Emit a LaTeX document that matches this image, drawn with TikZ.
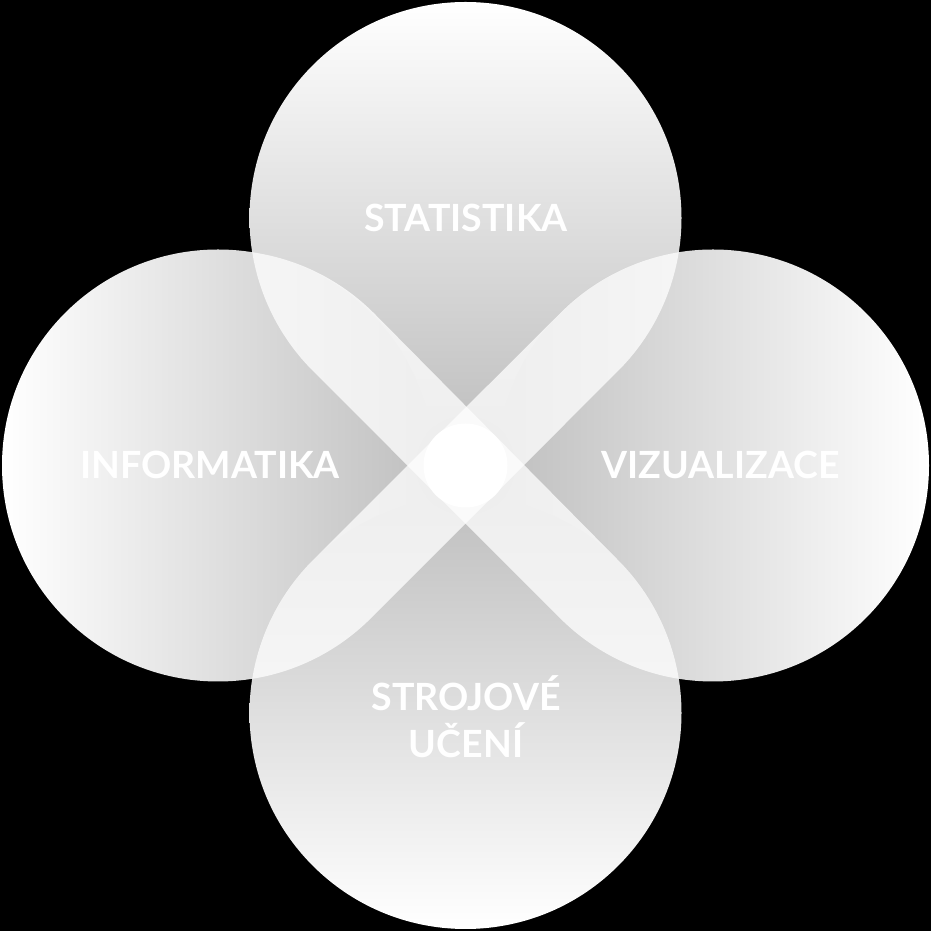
\documentclass[tikz,border=0pt]{standalone}
\usepackage{fontspec}
\setmainfont{Lato}
\usetikzlibrary{calc}

\begin{document}
\begin{tikzpicture}[
    x=1pt, y=1pt,
    field/.style={circle, minimum size=432pt, inner sep=0pt, outer sep=0pt},
    band/.style={fill=white, fill opacity=0.75},
    topic/.style={anchor=base, text=white, align=center,
      font=\bfseries\fontsize{37.5}{47}\selectfont}
  ]

  % black ground, fixes the size
  \fill[black] (0,0) rectangle (931,931);
  \useasboundingbox (0,0) rectangle (931,931);

  % the four fields, light outside, darker towards the middle
  \node (stat) [field, top color=white, bottom color=black!25]  at (465.5,713)  {};
  \node (inf)  [field, left color=white, right color=black!25]  at (218,465.5)  {};
  \node (viz)  [field, left color=black!25, right color=white]  at (713,465.5)  {};
  \node (ml)   [field, top color=black!25, bottom color=white]  at (465.5,218)  {};

  % grey under the crossing, where no field lies
  \coordinate (mid) at (465.5,465.5);
  \fill[black!25] (mid) circle[radius=50];

  % the two crossing bands through the overlaps
  \fill[band] (inf.80.9) arc[start angle=80.9, end angle=45, radius=216pt]
              -- (ml.45) arc[start angle=45, end angle=9.1, radius=216pt]
                         arc[start angle=260.9, end angle=225, radius=216pt]
              -- (stat.225) arc[start angle=225, end angle=189.1, radius=216pt]
              -- cycle;
  \fill[band] (viz.99.1) arc[start angle=99.1, end angle=135, radius=216pt]
              -- (ml.135) arc[start angle=135, end angle=170.9, radius=216pt]
                          arc[start angle=279.1, end angle=315, radius=216pt]
              -- (stat.315) arc[start angle=315, end angle=350.9, radius=216pt]
              -- cycle;

  \node (core) [circle, fill=white, minimum size=84pt, inner sep=0pt] at (mid) {};

  % texts
  \node (stattext) [topic] at ($(stat)+(0.5,-14)$)  {STATISTIKA};
  \node (inftext)  [topic] at ($(inf)+(-8,-13.5)$)  {INFORMATIKA};
  \node (viztext)  [topic] at ($(viz)+(7.5,-13.5)$) {VIZUALIZACE};
  \node (mltext)   [topic] at ($(ml)+(0.5,-45)$)    {STROJOVÉ\\UČENÍ};

\end{tikzpicture}
\end{document}
